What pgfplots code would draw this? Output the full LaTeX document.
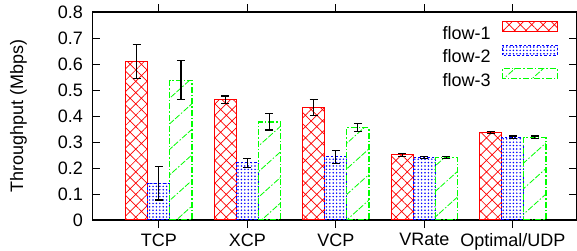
\documentclass[border=0pt]{standalone}
\usepackage{fontspec}
\setmainfont{Liberation Sans}
\usepackage{pgfplots}
\usepackage{pgfplotstable}
\pgfplotsset{compat=1.18}
\usetikzlibrary{patterns.meta,calc}

\pgfplotsset{boxlegend/.style={legend image code/.code={\path (0bp,0bp); \draw[##1] (11bp,1bp) rectangle (66bp,11bp);}}}

\pgfplotstableread{
x y e
0 0.610 0.065
1 0.463 0.014
2 0.432 0.031
3 0.251 0.006
4 0.337 0.005
}\flowA
\pgfplotstableread{
x y e
0 0.142 0.065
1 0.220 0.018
2 0.243 0.025
3 0.240 0.005
4 0.318 0.005
}\flowB
\pgfplotstableread{
x y e
0 0.538 0.076
1 0.377 0.031
2 0.355 0.015
3 0.240 0.005
4 0.318 0.005
}\flowC

\begin{document}
\begin{tikzpicture}
\begin{axis}[
  scale only axis, width=484bp, height=208bp,
  xmin=-0.75, xmax=4.72, ymin=0, ymax=0.8,
  xtick={0,1,2,3,4}, xticklabels={TCP,XCP,VCP,VRate,Optimal/UDP},
  ytick={0,0.1,0.2,0.3,0.4,0.5,0.6,0.7,0.8},
  yticklabels={0,0.1,0.2,0.3,0.4,0.5,0.6,0.7,0.8},
  tick align=inside, major tick length=8bp,
  tick style={black, line width=0.9bp},
  axis line style={line width=1.2bp},
  every tick label/.append style={font=\fontsize{18bp}{21bp}\selectfont},
  xticklabel style={yshift=-2bp},
  yticklabel style={xshift=-6bp},
  ylabel={Throughput (Mbps)},
  ylabel style={font=\fontsize{18bp}{21bp}\selectfont, at={(axis description cs:-0.153,0.5)}, anchor=center},
  ybar=0pt, bar width=0.25,
  boxlegend,
  legend plot pos=right,
  legend cell align=right,
  legend style={draw=none, fill=none, at={(1,1)}, anchor=north east, xshift=-18.5bp, yshift=-9bp,
    font=\fontsize{18bp}{19bp}\selectfont, row sep=5.5bp, column sep=0pt, inner sep=0pt,
    nodes={inner sep=0pt, text height=13bp, text depth=0bp}},
  error bars/y dir=both, error bars/y explicit,
  error bars/error mark options={rotate=90, mark size=4bp, line width=1.1bp, black, solid},
  error bars/error bar style={line width=1.1bp, black, solid},
]
\addplot[bar shift=-0.25, draw=red, line width=1.1bp,
  pattern={Hatch[angle=45, distance=8bp, line width=0.7bp]}, pattern color=red, boxlegend]
  table[x=x, y=y, y error=e] {\flowA};
\addlegendentry{flow-1}
\addplot[bar shift=0, draw=blue, line width=1.1bp, dash pattern=on 2.5bp off 2bp,
  pattern={Dots[distance=3.4bp, radius=0.85bp]}, pattern color=blue, boxlegend]
  table[x=x, y=y, y error=e] {\flowB};
\addlegendentry{flow-2}
\addplot[bar shift=0.25, draw=green, line width=1.1bp, dash pattern=on 6bp off 2bp on 1.5bp off 2bp,
  pattern={Lines[angle=42, distance=19bp, line width=0.8bp]}, pattern color=green, boxlegend]
  table[x=x, y=y, y error=e] {\flowC};
\addlegendentry{flow-3}
\end{axis}
\pgfresetboundingbox
\path[use as bounding box] ($(current axis.south west)+(-92.5bp,-31bp)$) rectangle ($(current axis.north east)+(0.5bp,12bp)$);
\end{tikzpicture}
\end{document}
